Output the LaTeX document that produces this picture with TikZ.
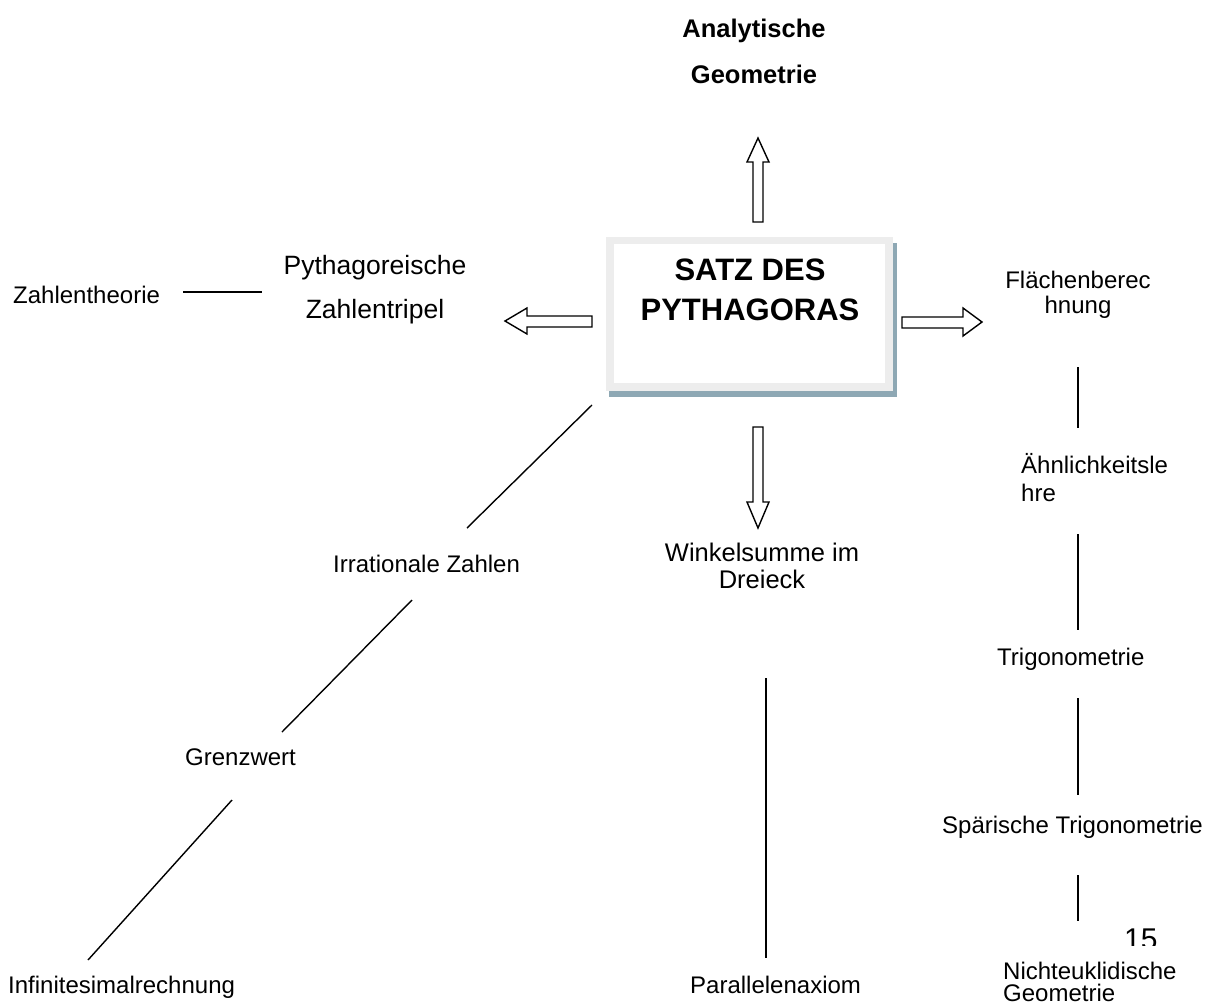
\documentclass[tikz,border=0pt]{standalone}
\usepackage{fontspec}
\setmainfont{Liberation Sans}
\definecolor{boxframe}{HTML}{EDEDED}
\definecolor{boxshadow}{HTML}{8EA8B4}
\tikzset{
  lbl/.style={font=\fontsize{24}{25}\selectfont, inner sep=0pt, anchor=base},
  lblw/.style={lbl, anchor=base west},
  link/.style={line width=1.4pt},
  blockarrow/.style={draw, line width=1.4pt, fill=white, line join=miter},
}
\begin{document}
\begin{tikzpicture}[x=1pt,y=-1pt]
\useasboundingbox (0,0) rectangle (1213,1007);
\fill[white] (0,0) rectangle (1213,1007);

% central box
\fill[boxshadow] (609,243) rectangle (897,397);
\fill[boxframe] (606,237) rectangle (893,391);
\fill[white] (614,244) rectangle (885,383);
\node[lbl, font=\fontsize{31}{40}\selectfont\bfseries, align=center] (satz) at (750,320) {SATZ DES\\PYTHAGORAS};

% top
\node[lbl, font=\fontsize{25.5}{46}\selectfont\bfseries, align=center] (analyt) at (754,83) {Analytische\\Geometrie};

% left
\node[lbl, font=\fontsize{26.5}{44}\selectfont, align=center] (pyt) at (375,318) {Pythagoreische\\Zahlentripel};
\node[lblw] (zt) at (13,303) {Zahlentheorie};
\node[lblw] (irr) at (333,572) {Irrationale Zahlen};
\node[lblw] (gw) at (185,765) {Grenzwert};
\node[lblw] (inf) at (8,993) {Infinitesimalrechnung};

% middle
\node[lbl, font=\fontsize{25.5}{27}\selectfont, align=center] (wink) at (762,588) {Winkelsumme im\\Dreieck};
\node[lblw] (par) at (690,993) {Parallelenaxiom};

% right
\node[lbl, font=\fontsize{24}{25}\selectfont, align=center] (flae) at (1078,313) {Flächenberec\\hnung};
\node[lbl, anchor=base west, font=\fontsize{24}{28}\selectfont, align=left] (aehn) at (1021,501) {Ähnlichkeitsle\\hre};
\node[lblw] (trig) at (997,665) {Trigonometrie};
\node[lblw] (sphtrig) at (942,833) {Spärische Trigonometrie};
\node[lbl, anchor=base west, font=\fontsize{24}{22}\selectfont, align=left] (nichteu) at (1003,1001) {Nichteuklidische\\Geometrie};
\begin{scope}
  \clip (1100,900) rectangle (1180,945);
  \node[lblw, font=\fontsize{30}{30}\selectfont] (pnum) at (1124,949) {15};
\end{scope}

% block arrows
\draw[blockarrow] (753,222) -- (753,162) -- (747,162) -- (758,138) -- (769,162) -- (763,162) -- (763,222) -- cycle;
\draw[blockarrow] (753,427) -- (753,502) -- (747,502) -- (758,528) -- (769,502) -- (763,502) -- (763,427) -- cycle;
\draw[blockarrow] (592,316) -- (527,316) -- (527,308) -- (505,321) -- (527,334) -- (527,327) -- (592,327) -- cycle;
\draw[blockarrow] (902,317) -- (963,317) -- (963,308) -- (982,322) -- (963,336) -- (963,328) -- (902,328) -- cycle;

% connector end points
\coordinate (zt-e) at (183,292);  \coordinate (pyt-e) at (262,292);
\coordinate (satz-sw) at (592,405); \coordinate (irr-n) at (467,528);
\coordinate (irr-s) at (412,600); \coordinate (gw-n) at (282,732);
\coordinate (gw-s) at (232,800); \coordinate (inf-n) at (88,960);
\coordinate (wink-s) at (766,678); \coordinate (par-n) at (766,958);
\coordinate (flae-s) at (1078,367); \coordinate (aehn-n) at (1078,428);
\coordinate (aehn-s) at (1078,534); \coordinate (trig-n) at (1078,630);
\coordinate (trig-s) at (1078,698); \coordinate (sph-n) at (1078,795);
\coordinate (sph-s) at (1078,875); \coordinate (nicht-n) at (1078,921);

\draw[link] (zt-e) -- (pyt-e);
\draw[link] (satz-sw) -- (irr-n);
\draw[link] (irr-s) -- (gw-n);
\draw[link] (gw-s) -- (inf-n);
\draw[link] (wink-s) -- (par-n);
\draw[link] (flae-s) -- (aehn-n);
\draw[link] (aehn-s) -- (trig-n);
\draw[link] (trig-s) -- (sph-n);
\draw[link] (sph-s) -- (nicht-n);
\end{tikzpicture}
\end{document}
